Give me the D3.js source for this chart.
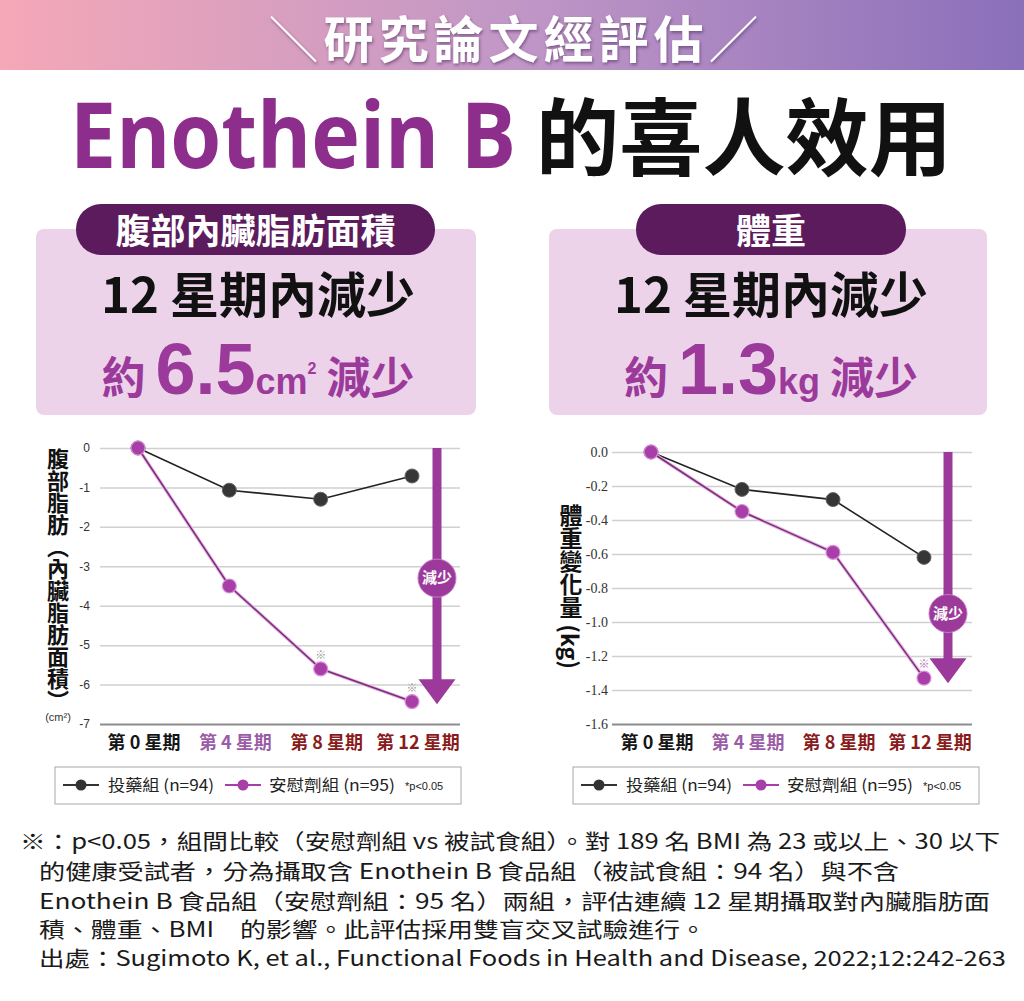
<!DOCTYPE html>
<html>
<head>
<meta charset="utf-8">
<script src="https://cdn.jsdelivr.net/npm/d3@7"></script>
<style>
  body { margin: 0; background: #fff; }
  svg { display: block; font-family: "Noto Sans CJK TC", "Noto Sans", sans-serif; }
</style>
</head>
<body>
<svg id="chart" width="1024" height="1001"></svg>
<script>
// ---- data ----
const weeks = ["第 0 星期", "第 4 星期", "第 8 星期", "第 12 星期"];

const fatDrug = [0, -1.07, -1.3, -0.71];
const fatPlacebo = [0, -3.5, -5.6, -6.43];
const fatSig = [false, false, true, true];
const fatTicks = [0, -1, -2, -3, -4, -5, -6, -7];

const weightDrug = [0, -0.22, -0.28, -0.62];
const weightPlacebo = [0, -0.35, -0.59, -1.33];
const weightSig = [false, false, false, true];
const weightTicks = [0, -0.2, -0.4, -0.6, -0.8, -1.0, -1.2, -1.4, -1.6];

const groupNames = ["投藥組 (n=94)", "安慰劑組 (n=95)"];
const sigNote = "*p<0.05";

const footnote = [
  "※：p<0.05，組間比較（安慰劑組 vs 被試食組）。對 189 名 BMI 為 23 或以上、30 以下",
  "的健康受試者，分為攝取含 Enothein B 食品組（被試食組：94 名）與不含",
  "Enothein B 食品組（安慰劑組：95 名）兩組，評估連續 12 星期攝取對內臟脂肪面",
  "積、體重、BMI　的影響。此評估採用雙盲交叉試驗進行。",
  "出處：Sugimoto K, et al., Functional Foods in Health and Disease, 2022;12:242-263"
];

// ---- styles ----
const purple = "#9b3a9b";
const weekColors = ["#151515", "#9a5ca6", "#8a1b1b", "#8a1b1b"];
const latin = "'Liberation Sans', 'Open Sans', sans-serif";

const svg = d3.select("#chart");
const defs = svg.append("defs");

const grad = defs.append("linearGradient").attr("id", "band").attr("x1", 0).attr("x2", 1);
grad.append("stop").attr("offset", 0).attr("stop-color", "#f5a8b7");
grad.append("stop").attr("offset", 0.5).attr("stop-color", "#c197c6");
grad.append("stop").attr("offset", 1).attr("stop-color", "#8a6fba");

defs.append("filter").attr("id", "shadow")
  .append("feDropShadow")
  .attr("dx", 1).attr("dy", 2).attr("stdDeviation", 1.5)
  .attr("flood-color", "#4a2a5a").attr("flood-opacity", 0.55);

// header band
svg.append("rect").attr("width", 1024).attr("height", 70).attr("fill", "url(#band)");
const head = svg.append("text")
  .attr("x", 516).attr("y", 58)
  .attr("text-anchor", "middle")
  .attr("font-size", 50).attr("fill", "#fff")
  .attr("letter-spacing", 5)
  .attr("filter", "url(#shadow)");
head.append("tspan").attr("font-weight", 300).text("＼");
head.append("tspan").attr("font-weight", 700).text("研究論文經評估");
head.append("tspan").attr("font-weight", 300).text("／");

// main title
svg.append("text")
  .attr("x", 70).attr("y", 168)
  .attr("font-family", "'Open Sans', 'Noto Sans', sans-serif")
  .attr("font-weight", 700).attr("font-size", 92)
  .attr("fill", "#8d2e8d")
  .attr("textLength", 446).attr("lengthAdjust", "spacingAndGlyphs")
  .text("Enothein B");
svg.append("text")
  .attr("x", 536).attr("y", 169)
  .attr("font-weight", 700).attr("font-size", 84)
  .attr("fill", "#111")
  .attr("textLength", 416).attr("lengthAdjust", "spacingAndGlyphs")
  .text("的喜人效用");

// summary cards
function card(c) {
  const g = svg.append("g");
  g.append("rect").attr("x", c.x0).attr("y", 229).attr("width", c.x1 - c.x0).attr("height", 186)
    .attr("rx", 8).attr("fill", "#ecd3ea");
  g.append("rect").attr("x", c.t0).attr("y", 204).attr("width", c.t1 - c.t0).attr("height", 51)
    .attr("rx", 25).attr("fill", "#5b1b5d");
  g.append("text").attr("x", (c.t0 + c.t1) / 2).attr("y", 244)
    .attr("text-anchor", "middle").attr("font-size", 35).attr("font-weight", 700)
    .attr("fill", "#fff").text(c.tab);
  g.append("text").attr("x", c.cx).attr("y", 313)
    .attr("text-anchor", "middle").attr("font-size", 49).attr("font-weight", 700)
    .attr("fill", "#111").text("12 星期內減少");
  const t = g.append("text").attr("x", c.cx).attr("y", 394)
    .attr("text-anchor", "middle").attr("font-weight", 700).attr("fill", purple);
  t.append("tspan").attr("font-size", 44).text("約 ");
  t.append("tspan").attr("font-size", 72).attr("font-family", latin).text(c.num);
  t.append("tspan").attr("font-size", 36).attr("font-family", latin).text(c.unit);
  if (c.sup) t.append("tspan").attr("font-size", 16).attr("font-family", latin).attr("dy", -20).text(c.sup);
  t.append("tspan").attr("font-size", 44).attr("dy", c.sup ? 20 : 0).text(" 減少");
}
card({ x0: 36, x1: 476, t0: 76, t1: 435, cx: 258, tab: "腹部內臟脂肪面積", num: "6.5", unit: "cm", sup: "2" });
card({ x0: 549, x1: 987, t0: 636, t1: 906, cx: 771, tab: "體重", num: "1.3", unit: "kg", sup: null });

// line charts
function drawChart(c) {
  const g = svg.append("g");
  const x = d3.scalePoint().domain(weeks).range(c.pointRange);
  const y = d3.scaleLinear().domain([0, c.ticks[c.ticks.length - 1]]).range(c.yRange);

  const axis = d3.axisLeft(y)
    .tickValues(c.ticks)
    .tickFormat(c.fmt)
    .tickSizeInner(-(c.gridX[1] - c.gridX[0]))
    .tickSizeOuter(0)
    .tickPadding(c.pad);
  const ax = g.append("g").attr("transform", `translate(${c.gridX[0]},0)`).call(axis);
  ax.select(".domain").remove();
  ax.selectAll(".tick line")
    .attr("stroke", (d, i) => i === c.ticks.length - 1 ? "#8c8c8c" : "#d0d0d0")
    .attr("stroke-width", (d, i) => i === c.ticks.length - 1 ? 2 : 1.5);
  ax.selectAll(".tick text")
    .attr("font-family", c.tickFont).attr("font-size", c.tickSize).attr("fill", "#333");

  // week labels
  g.selectAll("text.wk").data(weeks).join("text")
    .attr("class", "wk")
    .attr("x", d => x(d) + 6).attr("y", 749)
    .attr("text-anchor", "middle")
    .attr("font-size", 18).attr("font-weight", 700)
    .attr("fill", (d, i) => weekColors[i])
    .text(d => d);

  // y label (vertical)
  g.append("text")
    .attr("x", c.labelX).attr("y", c.labelY)
    .attr("font-size", c.labelSize).attr("font-weight", 700).attr("fill", "#111")
    .style("writing-mode", "vertical-rl")
    .text(c.label);
  if (c.unitLabel) {
    g.append("text").attr("x", c.labelX).attr("y", 721)
      .attr("text-anchor", "middle").attr("font-size", 11).attr("fill", "#333")
      .attr("font-family", latin)
      .text(c.unitLabel);
  }

  // reduction arrow
  const ay0 = y(0), ay1 = y(c.arrowEnd), headH = 25, ax0 = c.arrowX;
  const p = d3.path();
  p.moveTo(ax0 - 4.5, ay0);
  p.lineTo(ax0 + 4.5, ay0);
  p.lineTo(ax0 + 4.5, ay1 - headH);
  p.lineTo(ax0 + 18.5, ay1 - headH);
  p.lineTo(ax0, ay1);
  p.lineTo(ax0 - 18.5, ay1 - headH);
  p.lineTo(ax0 - 4.5, ay1 - headH);
  p.closePath();
  g.append("path").attr("d", p.toString()).attr("fill", purple);
  g.append("circle").attr("cx", ax0).attr("cy", y(c.badge)).attr("r", 19)
    .attr("fill", purple).attr("stroke", "#c77cc7").attr("stroke-width", 1);
  g.append("text").attr("x", ax0).attr("y", y(c.badge) + 5)
    .attr("text-anchor", "middle").attr("font-size", 15).attr("font-weight", 700)
    .attr("fill", "#fff").text("減少");

  // series
  const line = d3.line().x((d, i) => x(weeks[i])).y(d => y(d));
  g.append("path").datum(c.drug).attr("d", line)
    .attr("fill", "none").attr("stroke", "#222").attr("stroke-width", 1.6);
  g.append("path").datum(c.placebo).attr("d", line)
    .attr("fill", "none").attr("stroke", "#e3b5e3").attr("stroke-width", 3.5);
  g.append("path").datum(c.placebo).attr("d", line)
    .attr("fill", "none").attr("stroke", "#7a2c7a").attr("stroke-width", 1.5);

  g.selectAll("circle.dr").data(c.drug).join("circle")
    .attr("class", "dr")
    .attr("cx", (d, i) => x(weeks[i])).attr("cy", d => y(d)).attr("r", 7)
    .attr("fill", "#363636").attr("stroke", "#666").attr("stroke-width", 1);
  g.selectAll("circle.pl").data(c.placebo).join("circle")
    .attr("class", "pl")
    .attr("cx", (d, i) => x(weeks[i])).attr("cy", d => y(d)).attr("r", 7)
    .attr("fill", "#a83fa8").attr("stroke", "#dc90dc").attr("stroke-width", 1.2);

  g.selectAll("text.sig").data(c.placebo.map((v, i) => ({ v, i })).filter(d => c.sig[d.i])).join("text")
    .attr("class", "sig")
    .attr("x", d => x(weeks[d.i])).attr("y", d => y(d.v) - 10)
    .attr("text-anchor", "middle").attr("font-size", 11)
    .attr("fill", c.sigColor).text("※");

  // legend
  const lg = g.append("g").attr("transform", `translate(${c.legendX},767)`);
  lg.append("rect").attr("width", 406).attr("height", 37)
    .attr("fill", "#fff").attr("stroke", "#a8a8a8").attr("stroke-width", 1);
  const entries = [
    { name: groupNames[0], color: "#333", lx: 8, tx: 53, w: 106 },
    { name: groupNames[1], color: "#a83fa8", lx: 170, tx: 214, w: 126 }
  ];
  entries.forEach(e => {
    lg.append("line").attr("x1", e.lx).attr("x2", e.lx + 36).attr("y1", 18).attr("y2", 18)
      .attr("stroke", e.color).attr("stroke-width", 2);
    lg.append("circle").attr("cx", e.lx + 18).attr("cy", 18).attr("r", 5.5).attr("fill", e.color);
    lg.append("text").attr("x", e.tx).attr("y", 24)
      .attr("font-size", 16).attr("fill", "#222")
      .attr("textLength", e.w).attr("lengthAdjust", "spacingAndGlyphs")
      .text(e.name);
  });
  lg.append("text").attr("x", 350).attr("y", 23)
    .attr("font-size", 11).attr("fill", "#222")
    .attr("font-family", latin).text(sigNote);
}

drawChart({
  ticks: fatTicks, fmt: d => String(d), yRange: [448, 724],
  gridX: [100, 460], pointRange: [138, 412], pad: 10,
  tickFont: latin, tickSize: 12,
  drug: fatDrug, placebo: fatPlacebo, sig: fatSig, sigColor: "#999",
  label: "腹部脂肪（內臟脂肪面積）", labelX: 58, labelY: 448, labelSize: 22,
  unitLabel: "(cm²)",
  arrowX: 437, arrowEnd: -6.5, badge: -3.3,
  legendX: 55
});

drawChart({
  ticks: weightTicks, fmt: d => d.toFixed(1), yRange: [452, 724],
  gridX: [612, 972], pointRange: [651, 924], pad: 4,
  tickFont: "'Liberation Serif', serif", tickSize: 14,
  drug: weightDrug, placebo: weightPlacebo, sig: weightSig, sigColor: "#b26ab2",
  label: "體重變化量 (kg)", labelX: 571, labelY: 504, labelSize: 23,
  unitLabel: null,
  arrowX: 948, arrowEnd: -1.36, badge: -0.95,
  legendX: 573
});

// footnote
const fnX = [20, 39, 39, 39, 39];
const fnY = [849, 879, 909, 937, 966];
const fnW = [980, 860, 951, 667, 967];
svg.selectAll("text.fn").data(footnote).join("text")
  .attr("class", "fn")
  .attr("x", (d, i) => fnX[i]).attr("y", (d, i) => fnY[i])
  .attr("font-size", 21).attr("fill", "#1a1a1a")
  .attr("textLength", (d, i) => fnW[i]).attr("lengthAdjust", "spacingAndGlyphs")
  .text(d => d);
</script>
</body>
</html>
